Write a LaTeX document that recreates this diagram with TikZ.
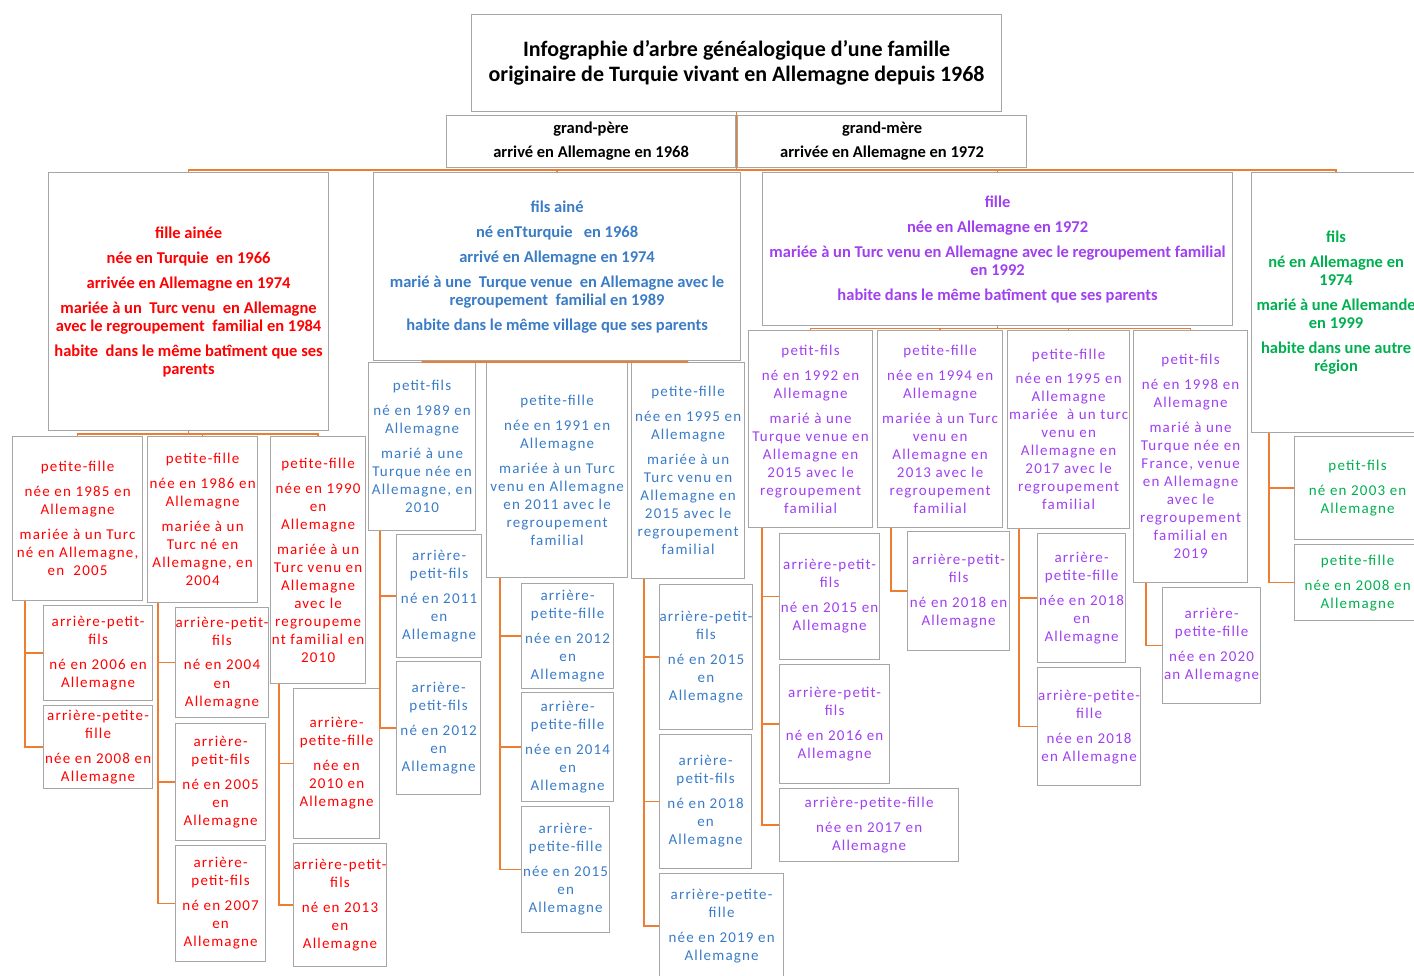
\documentclass[tikz,border=0pt]{standalone}
\usepackage{fontspec}
\setmainfont{Carlito}
\newfontfamily\spacedfont[LetterSpace=8]{Carlito}
\usetikzlibrary{positioning}
\definecolor{boxgray}{HTML}{A6A6A6}
\definecolor{linkorange}{HTML}{ED7D31}
\definecolor{famred}{HTML}{FF0000}
\definecolor{famblue}{HTML}{3A7CC6}
\definecolor{fampurple}{HTML}{A040F0}
\definecolor{famgreen}{HTML}{00B050}
\newcommand{\pgap}{\\[7pt]}
\tikzset{
  box/.style={draw=boxgray, line width=1.2pt, fill=white, inner sep=0pt, align=center, anchor=north west},
  sz/.style 2 args={minimum width=#1, minimum height=#2},
  headtxt/.style={font=\fontsize{16.5}{18}\selectfont\bfseries},
  kidtxt/.style={font=\spacedfont\fontsize{15}{18}\selectfont},
  link/.style={draw=linkorange, line width=1.5pt},
}

\begin{document}
\begin{tikzpicture}[x=1pt, y=-1pt]
\fill[white] (0,0) rectangle (1414,976);
\useasboundingbox (0,0) rectangle (1414,976);

% title and grandparents
\node[box, sz={530}{97}, font=\fontsize{22}{25}\selectfont\bfseries] (title) at (471,14)
  {Infographie d’arbre généalogique d’une famille\\originaire de Turquie vivant en Allemagne depuis 1968};
\node[box, sz={289}{52}, font=\fontsize{16.5}{24}\selectfont\bfseries] (gp) at (446,115)
  {grand-père\\arrivé en Allemagne en 1968};
\node[box, sz={289}{52}, font=\fontsize{16.5}{24}\selectfont\bfseries] (gm) at (737,115)
  {grand-mère\\arrivée en Allemagne en 1972};

% children
\node[box, sz={280}{258}, headtxt, text=famred] (fa) at (48,172)
  {fille ainée\pgap née en Turquie~ en 1966\pgap arrivée en Allemagne en 1974\pgap
   mariée à un~ Turc venu~ en Allemagne\\avec le regroupement~ familial en 1984\pgap
   habite~ dans le même batîment que ses\\parents};
\node[box, sz={367}{188}, headtxt, text=famblue] (fs) at (373,172)
  {fils ainé\pgap né enTturquie~~ en 1968\pgap arrivé en Allemagne en 1974\pgap
   marié à une~ Turque venue~ en Allemagne avec le\\regroupement~ familial en 1989\pgap
   habite dans le même village que ses parents};
\node[box, sz={470}{153}, headtxt, text=fampurple] (fi) at (762,172)
  {fille\pgap née en Allemagne en 1972\pgap
   mariée à un Turc venu en Allemagne avec le regroupement familial\\en 1992\pgap
   habite dans le même batîment que ses parents};
\node[box, sz={169}{260}, headtxt, text=famgreen] (fl) at (1251,172)
  {fils\pgap né en Allemagne en\\1974\pgap marié à une Allemande\\en 1999\pgap
   habite dans une autre\\région};

% grandchildren of the eldest daughter
\node[box, sz={130}{164}, kidtxt, text=famred] (rpf1) at (12,436)
  {petite-fille\pgap née en 1985 en\\Allemagne\pgap mariée à un Turc\\né en Allemagne,\\en~ 2005};
\node[box, sz={110}{166}, kidtxt, text=famred] (rpf2) at (147,436)
  {petite-fille\pgap née en 1986 en\\Allemagne\pgap mariée à un\\Turc né en\\Allemagne, en\\2004};
\node[box, sz={95}{247}, kidtxt, text=famred] (rpf3) at (270,436)
  {petite-fille\pgap née en 1990\\en\\Allemagne\pgap mariée à un\\Turc venu en\\Allemagne\\avec le\\regroupeme\\nt familial en\\2010};
\node[box, sz={109}{95}, kidtxt, text=famred] (ra1) at (43,605)
  {arrière-petit-\\fils\pgap né en 2006 en\\Allemagne};
\node[box, sz={109}{83}, kidtxt, text=famred] (ra2) at (43,705)
  {arrière-petite-\\fille\pgap née en 2008 en\\Allemagne};
\node[box, sz={90}{110}, kidtxt, text=famred] (ra3) at (175,607)
  {arrière-petit-\\fils\pgap né en 2004\\en\\Allemagne};
\node[box, sz={90}{117}, kidtxt, text=famred] (ra4) at (175,723)
  {arrière-\\petit-fils\pgap né en 2005\\en\\Allemagne};
\node[box, sz={90}{116}, kidtxt, text=famred] (ra5) at (175,845)
  {arrière-\\petit-fils\pgap né en 2007\\en\\Allemagne};
\node[box, sz={86}{150}, kidtxt, text=famred] (ra6) at (293,688)
  {arrière-\\petite-fille\pgap née en\\2010 en\\Allemagne};
\node[box, sz={92}{123}, kidtxt, text=famred] (ra7) at (293,843)
  {arrière-petit-\\fils\pgap né en 2013\\en\\Allemagne};

% grandchildren of the eldest son
\node[box, sz={107}{168}, kidtxt, text=famblue] (bpf1) at (368,362)
  {petit-fils\pgap né en 1989 en\\Allemagne\pgap marié à une\\Turque née en\\Allemagne, en\\2010};
\node[box, sz={141}{215}, kidtxt, text=famblue] (bpf2) at (486,362)
  {petite-fille\pgap née en 1991 en\\Allemagne\pgap mariée à un Turc\\venu en Allemagne\\en 2011 avec le\\regroupement\\familial};
\node[box, sz={113}{216}, kidtxt, text=famblue] (bpf3) at (631,362)
  {petite-fille\pgap née en 1995 en\\Allemagne\pgap mariée à un\\Turc venu en\\Allemagne en\\2015 avec le\\regroupement\\familial};
\node[box, sz={85}{123}, kidtxt, text=famblue] (ba1) at (396,534)
  {arrière-\\petit-fils\pgap né en 2011\\en\\Allemagne};
\node[box, sz={84}{133}, kidtxt, text=famblue] (ba2) at (396,661)
  {arrière-\\petit-fils\pgap né en 2012\\en\\Allemagne};
\node[box, sz={92}{105}, kidtxt, text=famblue] (ba3) at (521,583)
  {arrière-\\petite-fille\pgap née en 2012\\en\\Allemagne};
\node[box, sz={92}{109}, kidtxt, text=famblue] (ba4) at (521,692)
  {arrière-\\petite-fille\pgap née en 2014\\en\\Allemagne};
\node[box, sz={88}{126}, kidtxt, text=famblue] (ba5) at (521,806)
  {arrière-\\petite-fille\pgap née en 2015\\en\\Allemagne};
\node[box, sz={92}{145}, kidtxt, text=famblue] (ba6) at (659,584)
  {arrière-petit-\\fils\pgap né en 2015\\en\\Allemagne};
\node[box, sz={92}{134}, kidtxt, text=famblue] (ba7) at (659,734)
  {arrière-\\petit-fils\pgap né en 2018\\en\\Allemagne};
\node[box, sz={124}{105}, kidtxt, text=famblue] (ba8) at (659,873)
  {arrière-petite-\\fille\pgap née en 2019 en\\Allemagne};

% grandchildren of the daughter
\node[box, sz={124}{197}, kidtxt, text=fampurple] (ppf1) at (748,330)
  {petit-fils\pgap né en 1992 en\\Allemagne\pgap marié à une\\Turque venue en\\Allemagne en\\2015 avec le\\regroupement\\familial};
\node[box, sz={125}{197}, kidtxt, text=fampurple] (ppf2) at (877,330)
  {petite-fille\pgap née en 1994 en\\Allemagne\pgap mariée à un Turc\\venu en\\Allemagne en\\2013 avec le\\regroupement\\familial};
\node[box, sz={122}{198}, kidtxt, text=fampurple] (ppf3) at (1007,330)
  {petite-fille\\[6pt] née en 1995 en\\Allemagne\\mariée~ à un turc\\venu en\\Allemagne en\\2017 avec le\\regroupement\\familial};
\node[box, sz={114}{252}, kidtxt, text=fampurple] (ppf4) at (1133,330)
  {petit-fils\pgap né en 1998 en\\Allemagne\pgap marié à une\\Turque née en\\France, venue\\en Allemagne\\avec le\\regroupement\\familial en\\2019};
\node[box, sz={100}{126}, kidtxt, text=fampurple] (pa1) at (779,533)
  {arrière-petit-\\fils\pgap né en 2015 en\\Allemagne};
\node[box, sz={110}{119}, kidtxt, text=fampurple] (pa2) at (779,664)
  {arrière-petit-\\fils\pgap né en 2016 en\\Allemagne};
\node[box, sz={179}{73}, kidtxt, text=fampurple] (pa3) at (779,788)
  {arrière-petite-fille\pgap née en 2017 en\\Allemagne};
\node[box, sz={102}{119}, kidtxt, text=fampurple] (pa4) at (907,531)
  {arrière-petit-\\fils\pgap né en 2018 en\\Allemagne};
\node[box, sz={88}{129}, kidtxt, text=fampurple] (pa5) at (1037,533)
  {arrière-\\petite-fille\pgap née en 2018\\en\\Allemagne};
\node[box, sz={103}{118}, kidtxt, text=fampurple] (pa6) at (1037,667)
  {arrière-petite-\\fille\pgap née en 2018\\en Allemagne};
\node[box, sz={98}{116}, kidtxt, text=fampurple] (pa7) at (1162,587)
  {arrière-\\petite-fille\pgap née en 2020\\an Allemagne};

% grandchildren of the son
\node[box, sz={126}{103}, kidtxt, text=famgreen] (gpf1) at (1294,436)
  {petit-fils\pgap né en 2003 en\\Allemagne};
\node[box, sz={126}{76}, kidtxt, text=famgreen] (gpf2) at (1294,544)
  {petite-fille\pgap née en 2008 en\\Allemagne};

% connectors, top levels
\coordinate (tj) at ([yshift=-58pt]title.south);
\draw[link] (title.south) -- (tj);
\foreach \c in {fa,fs,fi,fl} \draw[link] (tj) -| (\c.north);
\coordinate (faj) at ([yshift=-3pt]fa.south);
\foreach \c in {rpf1,rpf2,rpf3} \draw[link] (fa.south) -- (faj) -| (\c.north);
\coordinate (fsj) at ([yshift=-1pt]fs.south);
\foreach \c in {bpf1,bpf2,bpf3} \draw[link] (fs.south) -- (fsj) -| (\c.north);
\coordinate (fij) at ([yshift=-2.5pt]fi.south);
\foreach \c in {ppf1,ppf2,ppf3,ppf4} \draw[link] (fi.south) -- (fij) -| (\c.north);

% connectors, hanging branches
\foreach \c in {ra1,ra2} \draw[link] ([xshift=13pt]rpf1.south west) |- (\c.west);
\foreach \c in {ra3,ra4,ra5} \draw[link] ([xshift=11pt]rpf2.south west) |- (\c.west);
\foreach \c in {ra6,ra7} \draw[link] ([xshift=9pt]rpf3.south west) |- (\c.west);
\foreach \c in {ba1,ba2} \draw[link] ([xshift=12pt]bpf1.south west) |- (\c.west);
\foreach \c in {ba3,ba4,ba5} \draw[link] ([xshift=14pt]bpf2.south west) |- (\c.west);
\foreach \c in {ba6,ba7,ba8} \draw[link] ([xshift=13pt]bpf3.south west) |- (\c.west);
\foreach \c in {pa1,pa2,pa3} \draw[link] ([xshift=14pt]ppf1.south west) |- (\c.west);
\draw[link] ([xshift=14pt]ppf2.south west) |- (pa4.west);
\foreach \c in {pa5,pa6} \draw[link] ([xshift=12pt]ppf3.south west) |- (\c.west);
\draw[link] ([xshift=13pt]ppf4.south west) |- (pa7.west);
\foreach \c in {gpf1,gpf2} \draw[link] ([xshift=18pt]fl.south west) |- (\c.west);
\end{tikzpicture}
\end{document}
